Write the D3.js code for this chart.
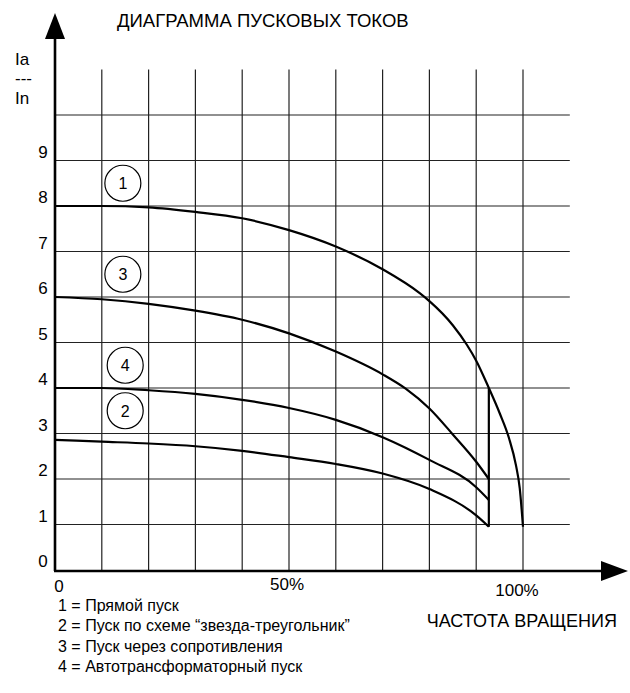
<!DOCTYPE html>
<html>
<head>
<meta charset="utf-8">
<script src="https://cdn.jsdelivr.net/npm/d3@7"></script>
<style>
  body { margin: 0; background: #fff; }
  svg text { font-family: "Liberation Sans", Arial, sans-serif; fill: #000; }
</style>
</head>
<body>
<div id="graph"></div>
<script>
// speed in % of nominal, current as Ia/In
const direct = [[0, 8], [10, 8], [20, 7.97], [30, 7.87], [40, 7.73], [50, 7.47], [60, 7.11], [70, 6.61], [78, 6.08], [80, 5.91], [85, 5.38], [88, 4.95], [90, 4.6], [92.7, 4], [95, 3.45], [97, 2.9], [98.5, 2.3], [99.3, 1.8], [100, 0.95]];
const starDelta = [[0, 2.86], [10, 2.82], [20, 2.78], [30, 2.72], [40, 2.62], [50, 2.48], [60, 2.33], [70, 2.12], [80, 1.78], [90, 1.2], [92.7, 0.95]];
const resistors = [[0, 6], [10, 5.95], [20, 5.85], [30, 5.7], [40, 5.5], [50, 5.2], [60, 4.8], [70, 4.3], [75, 3.98], [80, 3.55], [85, 2.98], [90, 2.38], [92.7, 2]];
const autoTrafo = [[0, 4], [10, 4], [20, 3.95], [30, 3.87], [40, 3.74], [50, 3.56], [60, 3.3], [70, 2.92], [80, 2.42], [90, 1.82], [92.7, 1.54]];
const switchover = [[92.7, 4], [92.7, 0.95]];

const curveIds = ["1", "3", "4", "2"];
const curveLabelPos = [[14.5, 8.5], [14.5, 6.5], [15, 4.5], [15, 3.5]];

const yTicks = [0, 1, 2, 3, 4, 5, 6, 7, 8, 9];
const xTicks = [0, 50, 100];
const xTickLabels = ["0", "50%", "100%"];

const legend = [
  "1 = Прямой пуск",
  "2 = Пуск по схеме “звезда-треугольник”",
  "3 = Пуск через сопротивления",
  "4 = Автотрансформаторный пуск"
];

(function() {
  const width = 630, height = 693;

  const svg = d3.select("#graph").append("svg")
    .attr("width", width)
    .attr("height", height);

  const x = d3.scaleLinear().domain([0, 100]).range([55, 523]);
  const y = d3.scaleLinear().domain([0, 10]).range([570, 115]);

  // grid
  svg.append("g")
    .selectAll("line")
    .data(d3.range(1, 11))
    .enter().append("line")
    .attr("x1", x(0)).attr("x2", x(110))
    .attr("y1", d => y(d)).attr("y2", d => y(d))
    .attr("stroke", "#222").attr("stroke-width", 1.2);

  svg.append("g")
    .selectAll("line")
    .data(d3.range(10, 101, 10))
    .enter().append("line")
    .attr("x1", d => x(d)).attr("x2", d => x(d))
    .attr("y1", y(0)).attr("y2", y(11))
    .attr("stroke", "#222").attr("stroke-width", 1.2);

  // axes with arrows
  svg.append("line")
    .attr("x1", x(0)).attr("x2", x(0))
    .attr("y1", y(0) + 1).attr("y2", 36)
    .attr("stroke", "#000").attr("stroke-width", 2.6);
  svg.append("path")
    .attr("d", `M${x(0) - 10},39 L${x(0)},13 L${x(0) + 10},39 Z`)
    .attr("fill", "#000");

  svg.append("line")
    .attr("x1", x(0) - 1).attr("x2", 603)
    .attr("y1", y(0) + 1).attr("y2", y(0) + 1)
    .attr("stroke", "#000").attr("stroke-width", 2.6);
  svg.append("path")
    .attr("d", `M601,${y(0) - 9} L628,${y(0) + 1} L601,${y(0) + 11} Z`)
    .attr("fill", "#000");

  // tick labels
  svg.append("g")
    .selectAll("text")
    .data(yTicks)
    .enter().append("text")
    .attr("x", 43)
    .attr("y", d => y(d) - 3)
    .attr("text-anchor", "middle")
    .style("font-size", "17px")
    .text(d => d);

  const xShift = [4, -2, -6];
  const xBase = [592, 590, 596];
  svg.append("g")
    .selectAll("text")
    .data(xTicks)
    .enter().append("text")
    .attr("x", (d, i) => x(d) + xShift[i])
    .attr("y", (d, i) => xBase[i])
    .attr("text-anchor", "middle")
    .style("font-size", "17px")
    .text((d, i) => xTickLabels[i]);

  // curves
  const line = d3.line()
    .x(d => x(d[0]))
    .y(d => y(d[1]))
    .curve(d3.curveMonotoneX);

  svg.append("g")
    .selectAll("path")
    .data([direct, resistors, autoTrafo, starDelta])
    .enter().append("path")
    .attr("d", line)
    .attr("fill", "none")
    .attr("stroke", "#000")
    .attr("stroke-width", 2.2);

  svg.append("path")
    .attr("d", d3.line().x(d => x(d[0])).y(d => y(d[1]))(switchover))
    .attr("stroke", "#000")
    .attr("stroke-width", 2.2);

  // numbered circles
  const marks = svg.append("g")
    .selectAll("g")
    .data(curveLabelPos)
    .enter().append("g")
    .attr("transform", d => `translate(${x(d[0])},${y(d[1])})`);
  marks.append("circle")
    .attr("r", 18)
    .attr("fill", "#fff")
    .attr("stroke", "#000")
    .attr("stroke-width", 1.2);
  marks.append("text")
    .attr("text-anchor", "middle")
    .attr("dy", "0.36em")
    .style("font-size", "16px")
    .text((d, i) => curveIds[i]);

  // titles
  svg.append("text")
    .attr("x", 117).attr("y", 27)
    .style("font-size", "18.5px")
    .text("ДИАГРАММА ПУСКОВЫХ ТОКОВ");

  svg.append("text")
    .attr("x", 617).attr("y", 627)
    .attr("text-anchor", "end")
    .style("font-size", "18px")
    .text("ЧАСТОТА ВРАЩЕНИЯ");

  const yLabel = svg.append("text")
    .style("font-size", "17px");
  yLabel.append("tspan").attr("x", 15).attr("y", 65).text("Ia");
  yLabel.append("tspan").attr("x", 15).attr("y", 84).text("---");
  yLabel.append("tspan").attr("x", 15).attr("y", 104).text("In");

  svg.append("g")
    .selectAll("text")
    .data(legend)
    .enter().append("text")
    .attr("x", 58)
    .attr("y", (d, i) => 611 + i * 20.3)
    .style("font-size", "16px")
    .text(d => d);
})();
</script>
</body>
</html>
